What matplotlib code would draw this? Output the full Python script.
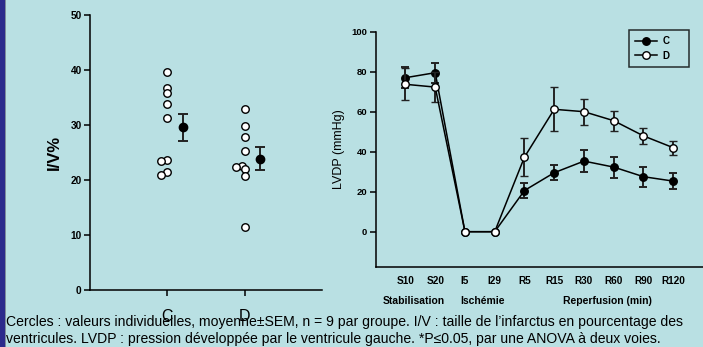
import matplotlib
matplotlib.use("Agg")
import matplotlib.pyplot as plt
from matplotlib.patches import Rectangle
from matplotlib.lines import Line2D

plt.rcParams['font.family'] = ['Liberation Sans', 'DejaVu Sans']

BG = '#b9e0e3'

# Infarct size (I/V %), individual values per group
groups = ['C', 'D']
iv_C = [39.6, 36.7, 35.9, 33.9, 31.2, 23.6, 23.4, 21.4, 20.9]
iv_D = [32.9, 29.9, 27.9, 25.2, 22.6, 22.3, 22.0, 20.7, 11.4]
iv_mean = [29.6, 23.9]
iv_sem = [2.45, 2.1]

# LVDP time course
times = ['S10', 'S20', 'I5', 'I29', 'R5', 'R15', 'R30', 'R60', 'R90', 'R120']
lvdp_C = [77.0, 79.5, 0, 0, 20.6, 29.5, 35.3, 32.3, 27.5, 25.3]
sem_C = [5.3, 5.0, 0, 0, 3.6, 3.7, 5.6, 5.3, 5.0, 4.0]
lvdp_D = [73.7, 72.3, 0, 0, 37.3, 61.2, 60.0, 55.5, 47.9, 42.0]
sem_D = [8.0, 7.6, 0, 0, 9.4, 11.0, 6.5, 5.0, 4.0, 3.6]
phases = ['Stabilisation', 'Ischémie', 'Reperfusion (min)']
phase_centers = [0.27, 2.6, 6.8]

caption = ["Cercles : valeurs individuelles, moyenne\u00b1SEM, n = 9 par groupe. I/V : taille de l\u2019infarctus en pourcentage des",
           "ventricules. LVDP : pression développée par le ventricule gauche. *P\u22640.05, par une ANOVA à deux voies."]

W, H = 703, 347
fig = plt.figure(figsize=(W / 100, H / 100), dpi=100, facecolor=BG)

# dark left border stripe
fig.patches.append(Rectangle((0, 0), 4.5 / W, 1, transform=fig.transFigure,
                             facecolor='#2c2a8c', edgecolor='none', zorder=0))
fig.patches.append(Rectangle((4.5 / W, 0), 1.2 / W, 1, transform=fig.transFigure,
                             facecolor='#7f8c9c', edgecolor='none', zorder=0))


def px_axes(x0, x1, ytop, ybot):
    return fig.add_axes([x0 / W, (H - ybot) / H, (x1 - x0) / W, (ybot - ytop) / H])


# ---- left panel: infarct size ----
ax1 = px_axes(90, 322, 15, 290)
ax1.set_facecolor('none')
for s in ('top', 'right'):
    ax1.spines[s].set_visible(False)
for s in ('left', 'bottom'):
    ax1.spines[s].set_linewidth(1.1)

jit_C = [0, 0, 0, 0, 0, 0, -0.085, 0, -0.085]
jit_D = [0, 0, 0, 0, -0.03, -0.115, 0, 0, 0]
for gi, (vals, jit) in enumerate([(iv_C, jit_C), (iv_D, jit_D)]):
    xs = [gi + 1 + j for j in jit]
    ax1.plot(xs, vals, 'o', ms=5.4, mfc='white', mec='black', mew=1.0,
             ls='none', zorder=3)
    ax1.errorbar(gi + 1.2, iv_mean[gi], yerr=iv_sem[gi], fmt='o', ms=6.0,
                 color='black', ecolor='#222222', elinewidth=1.4, capsize=3.3,
                 capthick=1.4, zorder=4)

ax1.set_xlim(0, 3)
ax1.set_ylim(0, 50)
ax1.set_xticks([1, 2])
ax1.set_xticklabels(groups, fontsize=11.5)
ax1.set_yticks(range(0, 51, 10))
ax1.tick_params(axis='y', labelsize=7.3, length=4, width=1.1, pad=2)
ax1.tick_params(axis='x', length=4, width=1.1, pad=10)
for t in ax1.get_yticklabels():
    t.set_fontweight('bold')
ax1.set_ylabel('I/V%', fontsize=12, fontweight='bold', labelpad=6)

# ---- right panel: LVDP ----
ax2 = px_axes(375.7, 703, 31.7, 266.7)
ax2.set_facecolor('none')
for s in ('top', 'right'):
    ax2.spines[s].set_visible(False)
for s in ('left', 'bottom'):
    ax2.spines[s].set_linewidth(1.1)

x = list(range(len(times)))
ax2.errorbar(x, lvdp_C, yerr=sem_C, fmt='-o', color='black', lw=1.1, ms=5.4,
             mfc='black', mec='black', ecolor='#222222', elinewidth=1.4,
             capsize=3.0, capthick=1.4, zorder=3)
ax2.errorbar(x, lvdp_D, yerr=sem_D, fmt='-o', color='black', lw=1.1, ms=5.4,
             mfc='white', mec='black', mew=1.0, ecolor='#222222',
             elinewidth=1.4, capsize=3.0, capthick=1.4, zorder=4)

ax2.set_xlim(-1, 10)
ax2.set_ylim(-17.5, 100)
ax2.set_yticks(range(0, 101, 20))
ax2.set_xticks(x)
ax2.set_xticklabels(times)
ax2.tick_params(axis='y', labelsize=6.8, length=4, width=1.1, pad=2)
ax2.tick_params(axis='x', labelsize=7.2, length=0, pad=7)
for t in ax2.get_yticklabels() + ax2.get_xticklabels():
    t.set_fontweight('bold')
ax2.set_ylabel('LVDP (mmHg)', fontsize=9, labelpad=5)

for label, xc in zip(phases, phase_centers):
    fig.text(ax2.transData.transform((xc, 0))[0] / W, (H - 301) / H, label,
             fontsize=7.5, fontweight='bold', ha='center', va='center')

handles = [Line2D([], [], color='black', lw=1.1, marker='o', ms=5.4,
                  mfc='black', mec='black'),
           Line2D([], [], color='black', lw=1.1, marker='o', ms=5.4,
                  mfc='white', mec='black')]
leg = ax2.legend(handles, groups, loc='upper left',
                 bbox_to_anchor=(0.774, 0.85, 0.183, 0.157),
                 mode='expand', borderaxespad=0,
                 frameon=True, fancybox=False, edgecolor='black',
                 facecolor='none', handlelength=2.2,
                 handletextpad=0.6, borderpad=0.65, labelspacing=0.45,
                 prop={'weight': 'bold', 'size': 7})
leg.get_frame().set_linewidth(1.1)

# ---- caption ----
fig.text(6 / W, (H - 322) / H, caption[0], fontsize=10.1, ha='left', va='center')
fig.text(6 / W, (H - 339) / H, caption[1], fontsize=10.1, ha='left', va='center')

fig.savefig('out.png', dpi=100, facecolor=BG)
